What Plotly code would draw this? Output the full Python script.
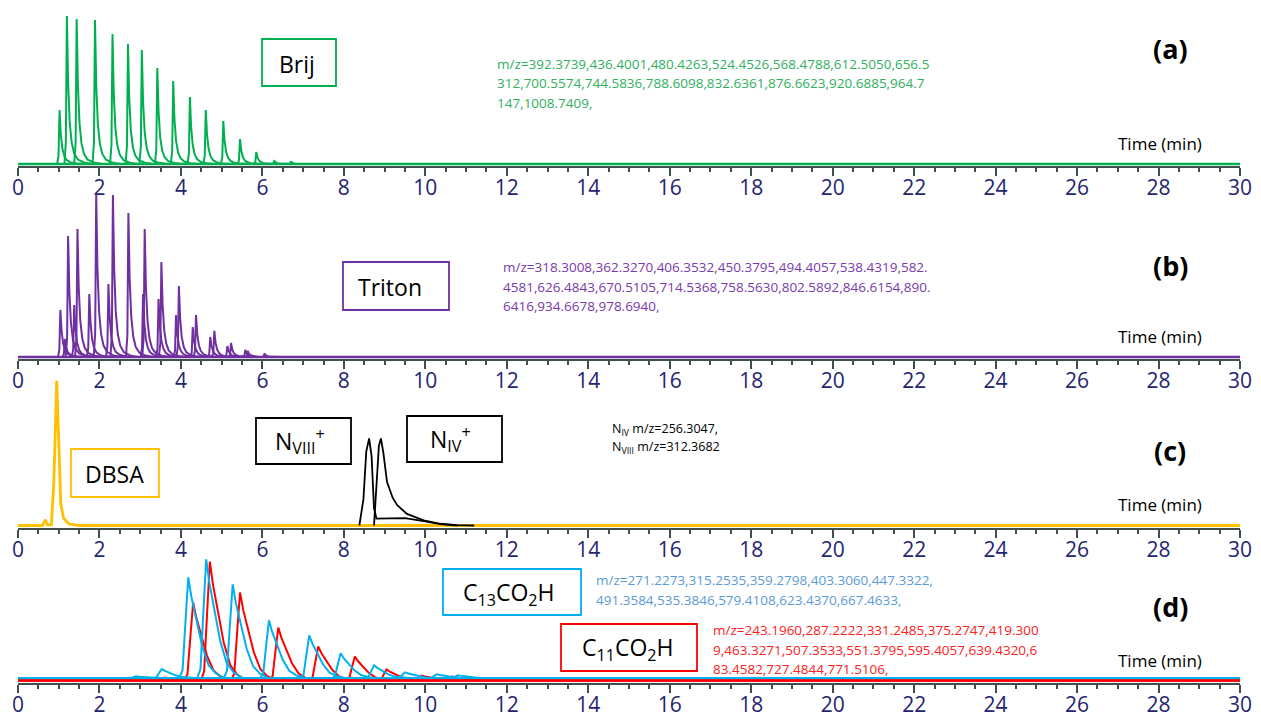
import plotly.graph_objects as go

# ---------------- data ----------------
tick_vals = list(range(0, 31, 2))
tick_text = [str(v) for v in tick_vals]
time_span = [0, 30]

# (a) Brij : apex times (min) and relative intensity (%)
brij_times = [1.02, 1.20, 1.44, 1.89, 2.32, 2.70, 3.04, 3.42, 3.81, 4.22, 4.61, 5.04, 5.45, 5.85, 6.29, 6.70]
brij_heights = [36.5, 100, 98, 97.3, 87.8, 81.1, 77, 64.9, 56.1, 45.3, 36.5, 29.1, 16.9, 8.1, 2.0, 1.4]

# (b) Triton
triton_times = [1.04, 1.15, 1.23, 1.38, 1.46, 1.75, 1.92, 2.22, 2.33, 2.71, 3.07, 3.11, 3.45, 3.52,
                3.88, 3.95, 4.29, 4.37, 4.72, 4.82, 5.14, 5.23, 5.58, 5.64, 6.05]
triton_heights = [28.7, 11.0, 73.8, 31.7, 78.0, 38.4, 99.4, 44.5, 98.8, 87.8, 38.4, 78.0, 35.4, 57.9,
                  25.6, 43.3, 18.3, 25.6, 12.2, 15.9, 6.7, 8.5, 4.3, 3.7, 1.8]

# (c) DBSA and nonylphenol-type ions (full traces)
dbsa_t = [0, 0.60, 0.67, 0.72, 0.82, 0.88, 0.95, 1.00, 1.05, 1.12, 1.25, 1.50, 30]
dbsa_i = [0, 0, 4, 0.5, 0.5, 30, 100, 60, 15, 5, 1, 0, 0]
n8_t = [8.38, 8.48, 8.55, 8.62, 8.68, 8.74, 8.80, 9.10, 9.50, 9.96, 10.37, 10.80]
n8_i = [0, 18, 51, 60, 48, 12, 4.8, 5.1, 5.1, 3.0, 0.9, 0]
n4_t = [8.74, 8.80, 8.86, 8.91, 8.97, 9.06, 9.20, 9.31, 9.55, 9.96, 10.37, 10.78, 11.20]
n4_i = [0, 25, 55, 60, 50, 30, 19, 14, 8, 3.6, 1.2, 0.3, 0]

# (d) fatty acids
c13_times = [2.90, 3.53, 4.18, 4.62, 5.27, 6.16, 7.15, 7.92, 8.74, 9.50, 10.28, 10.80]
c13_heights = [1.6, 7.6, 82.8, 97.5, 77, 47.5, 35.2, 20.5, 10.7, 4.9, 3.3, 2.5]
c11_times = [3.60, 4.30, 4.71, 5.45, 6.39, 7.37, 8.27, 9.05, 9.91, 10.65]
c11_heights = [2.5, 63.9, 97.5, 72.1, 43.4, 27.9, 19.7, 9.0, 4.1, 3.3]

# peak outlines (offset from apex in min, fraction of apex)
sharp_dt = [-0.06, -0.025, 0, 0.03, 0.07, 0.12, 0.18, 0.27, 0.42, 0.62]
sharp_fr = [0, 0.15, 1, 0.55, 0.28, 0.14, 0.07, 0.03, 0.01, 0]
broad_dt = [-0.22, -0.14, -0.07, 0, 0.08, 0.18, 0.34, 0.50, 0.67, 0.90]
broad_fr = [0, 0.08, 0.55, 1, 0.8, 0.62, 0.32, 0.13, 0.05, 0]

mz_brij = ["m/z=392.3739,436.4001,480.4263,524.4526,568.4788,612.5050,656.5",
           "312,700.5574,744.5836,788.6098,832.6361,876.6623,920.6885,964.7",
           "147,1008.7409,"]
mz_triton = ["m/z=318.3008,362.3270,406.3532,450.3795,494.4057,538.4319,582.",
             "4581,626.4843,670.5105,714.5368,758.5630,802.5892,846.6154,890.",
             "6416,934.6678,978.6940,"]
mz_n = ["N<sub>IV</sub> m/z=256.3047,", "N<sub>VIII</sub> m/z=312.3682"]
mz_c13 = ["m/z=271.2273,315.2535,359.2798,403.3060,447.3322,",
          "491.3584,535.3846,579.4108,623.4370,667.4633,"]
mz_c11 = ["m/z=243.1960,287.2222,331.2485,375.2747,419.300",
          "9,463.3271,507.3533,551.3795,595.4057,639.4320,6",
          "83.4582,727.4844,771.5106,"]

# ---------------- styling ----------------
PAGE = 8                      # default body margin of the html page
W, H = 1261 - 2 * PAGE, 720 - PAGE
FONT = "Open Sans"
NAVY = "#25256f"
AXC = "#3f4f4f"
GREEN, PURPLE, GOLD = "#00b050", "#7030a0", "#ffc000"
CYAN, RED, BLACK = "#00b0f0", "#ff0000", "#000000"

def px(x):
    return (x - PAGE) / W

def py(y):
    return 1 - (y - PAGE) / H

x_dom = [px(18), px(1240)]
# (axis pixel, baseline pixel, top-of-100% pixel)
panels = [(166, 164, 16), (359, 357, 193), (528, 525.5, 380.5), (683, 680.5, 558.5)]

fig = go.Figure()

def add(panel, xs, ys, color, width=2.0):
    n = "" if panel == 0 else str(panel + 1)
    fig.add_trace(go.Scatter(x=xs, y=ys, mode="lines", line=dict(color=color, width=width),
                             xaxis="x" + n, yaxis="y" + n, showlegend=False, hoverinfo="skip"))

def add_peaks(panel, times, heights, dts, frs, color, base=0.0):
    add(panel, time_span, [base, base], color, 2.6)
    for t, h in zip(times, heights):
        add(panel, [t + d for d in dts], [base + h * f for f in frs], color)

add_peaks(0, brij_times, brij_heights, sharp_dt, sharp_fr, GREEN)
add_peaks(1, triton_times, triton_heights, sharp_dt, sharp_fr, PURPLE)
add(2, dbsa_t, dbsa_i, GOLD, 2.8)
add(2, n8_t, n8_i, BLACK, 1.8)
add(2, n4_t, n4_i, BLACK, 1.8)
add_peaks(3, c11_times, c11_heights, broad_dt, broad_fr, RED, 0.0)
add_peaks(3, c13_times, c13_heights, broad_dt, broad_fr, CYAN, 1.8)
add(3, time_span, [0, 0], RED, 2.6)

layout = dict(width=W, height=H, margin=dict(l=0, r=0, t=0, b=0, autoexpand=False),
              paper_bgcolor="white", plot_bgcolor="white", showlegend=False)
for i, (ax_px, base_px, top_px) in enumerate(panels):
    n = "" if i == 0 else str(i + 1)
    ymin = -(ax_px - base_px) / (base_px - top_px) * 100
    layout["xaxis" + n] = dict(domain=x_dom, range=time_span, anchor="y" + n, automargin=False,
                               tickvals=tick_vals, ticktext=tick_text, ticks="outside",
                               ticklen=8, tickwidth=2, tickcolor=AXC, showline=True,
                               linecolor=AXC, linewidth=2, showgrid=False, zeroline=False,
                               ticklabelstandoff=-6,
                               tickfont=dict(family=FONT, size=21, color=NAVY),
                               minor=dict(dtick=0.5, tick0=0, ticks="outside", ticklen=4,
                                          tickwidth=1.5, tickcolor=AXC, showgrid=False))
    layout["yaxis" + n] = dict(domain=[py(ax_px), py(top_px)], range=[ymin, 100],
                               visible=False, anchor="x" + n, automargin=False)
fig.update_layout(**layout)

ann = []
shapes = []

def text(x, y, s, size, color, anchor="left", bold=False):
    ann.append(dict(x=px(x), y=py(y), xref="paper", yref="paper", text=("<b>%s</b>" % s) if bold else s,
                    showarrow=False, xanchor=anchor, yanchor="middle",
                    font=dict(family=FONT, size=size, color=color)))

def box(x0, y0, x1, y1, color, label, tx=None, ty=None):
    shapes.append(dict(type="rect", xref="paper", yref="paper", x0=px(x0), x1=px(x1),
                       y0=py(y1), y1=py(y0), line=dict(color=color, width=1.8),
                       fillcolor="rgba(0,0,0,0)"))
    text(tx if tx is not None else (x0 + x1) / 2, ty if ty is not None else (y0 + y1) / 2,
         label, 23, "black", "center")

# panel letters and axis titles
for (lab, ly), (ax_px, _, _) in zip([("(a)", 48), ("(b)", 265), ("(c)", 450), ("(d)", 606)], panels):
    text(1170, ly, lab, 27, "black", "center", bold=True)
    text(1160, ax_px - 23, "Time (min)", 17, "black", "center")

box(262, 39, 336, 86, GREEN, "Brij", 297, 64)
box(343, 262, 449, 310, PURPLE, "Triton", 390, 287)
box(71, 449, 159, 497, GOLD, "DBSA", 114, 474)
box(256, 418, 351, 464, BLACK, "N<sub>VIII</sub><sup>+</sup>", 300, 441)
box(407, 416, 502, 462, BLACK, "N<sub>IV</sub><sup>+</sup>", 451, 439)
box(443, 569, 581, 615, CYAN, "C<sub>13</sub>CO<sub>2</sub>H", 508, 593)
box(561, 624, 697, 671, RED, "C<sub>11</sub>CO<sub>2</sub>H", 627, 648)

for k, s in enumerate(mz_brij):
    text(495, 64 + 19.5 * k, s, 13.5, "#2fb060")
for k, s in enumerate(mz_triton):
    text(501, 267 + 19.5 * k, s, 13.5, "#7a3aab")
for k, s in enumerate(mz_n):
    text(610, 430 + 18 * k, s, 12.5, "black")
for k, s in enumerate(mz_c13):
    text(594, 580 + 19.5 * k, s, 13.5, "#5b9bd5")
for k, s in enumerate(mz_c11):
    text(711, 630 + 19.5 * k, s, 13.5, "#ff2020")

fig.update_layout(annotations=ann, shapes=shapes)
fig.write_html("out.html")
